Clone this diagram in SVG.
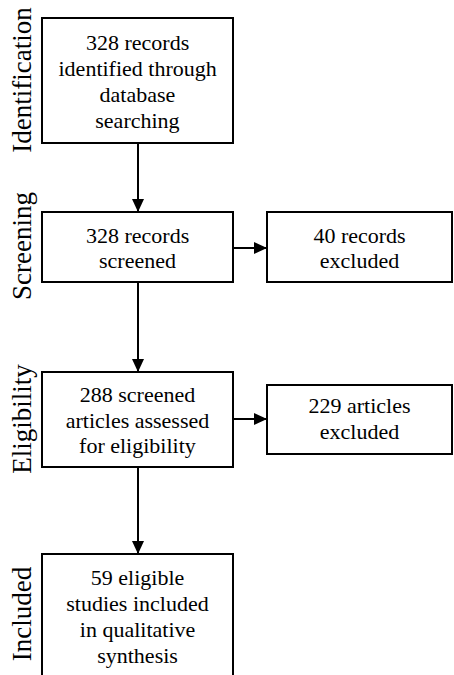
<svg xmlns="http://www.w3.org/2000/svg" width="454" height="675" viewBox="0 0 454 675">
<style>
.box{fill:#fff;stroke:#000;stroke-width:2}
.conn{stroke:#000;stroke-width:2;fill:none}
</style>
<defs>
<marker id="ah" markerWidth="13" markerHeight="12" refX="13" refY="6" orient="auto" markerUnits="userSpaceOnUse">
<path d="M0,0 L13,6 L0,12 Z" fill="#000"/>
</marker>
</defs>
<rect width="454" height="675" fill="#fff"/>
<g id="stage-labels" font-family="Liberation Serif, serif" font-size="27" fill="#000" text-anchor="middle">
<text transform="translate(31,80) rotate(-90)">Identification</text>
<text transform="translate(31,246) rotate(-90)">Screening</text>
<text transform="translate(31,419) rotate(-90)">Eligibility</text>
<text transform="translate(31,614) rotate(-90)">Included</text>
</g>
<g id="connectors">
<line class="conn" x1="138" y1="143" x2="138" y2="212" marker-end="url(#ah)"/>
<line class="conn" x1="138" y1="282" x2="138" y2="372" marker-end="url(#ah)"/>
<line class="conn" x1="138" y1="467" x2="138" y2="554" marker-end="url(#ah)"/>
<line class="conn" x1="233" y1="248" x2="267" y2="248" marker-end="url(#ah)"/>
<line class="conn" x1="233" y1="419" x2="267" y2="419" marker-end="url(#ah)"/>
</g>
<g id="n1">
<rect class="box" x="42" y="18" width="191" height="125"/>
<g font-family="Liberation Serif, serif" font-size="22" fill="#000">
<text x="86" y="50">328 records</text>
<text x="58.5" y="76">identified through</text>
<text x="99.6" y="102">database</text>
<text x="95.3" y="128">searching</text>
</g>
</g>
<g id="n2">
<rect class="box" x="42" y="212" width="191" height="70"/>
<g font-family="Liberation Serif, serif" font-size="22" fill="#000">
<text x="86" y="243">328 records</text>
<text x="99" y="268">screened</text>
</g>
</g>
<g id="n3">
<rect class="box" x="267" y="212" width="185" height="70"/>
<g font-family="Liberation Serif, serif" font-size="22" fill="#000">
<text x="313.4" y="243">40 records</text>
<text x="319.8" y="268">excluded</text>
</g>
</g>
<g id="n4">
<rect class="box" x="42" y="372" width="191" height="95"/>
<g font-family="Liberation Serif, serif" font-size="22" fill="#000">
<text x="79.8" y="402">288 screened</text>
<text x="65.7" y="428">articles assessed</text>
<text x="79.1" y="453">for eligibility</text>
</g>
</g>
<g id="n5">
<rect class="box" x="267" y="385" width="185" height="69"/>
<g font-family="Liberation Serif, serif" font-size="22" fill="#000">
<text x="308.5" y="413">229 articles</text>
<text x="319.8" y="439">excluded</text>
</g>
</g>
<g id="n6">
<rect class="box" x="42" y="554" width="191" height="130"/>
<g font-family="Liberation Serif, serif" font-size="22" fill="#000">
<text x="90.8" y="585">59 eligible</text>
<text x="66.3" y="611">studies included</text>
<text x="79.8" y="637">in qualitative</text>
<text x="97.2" y="663">synthesis</text>
</g>
</g>
</svg>
